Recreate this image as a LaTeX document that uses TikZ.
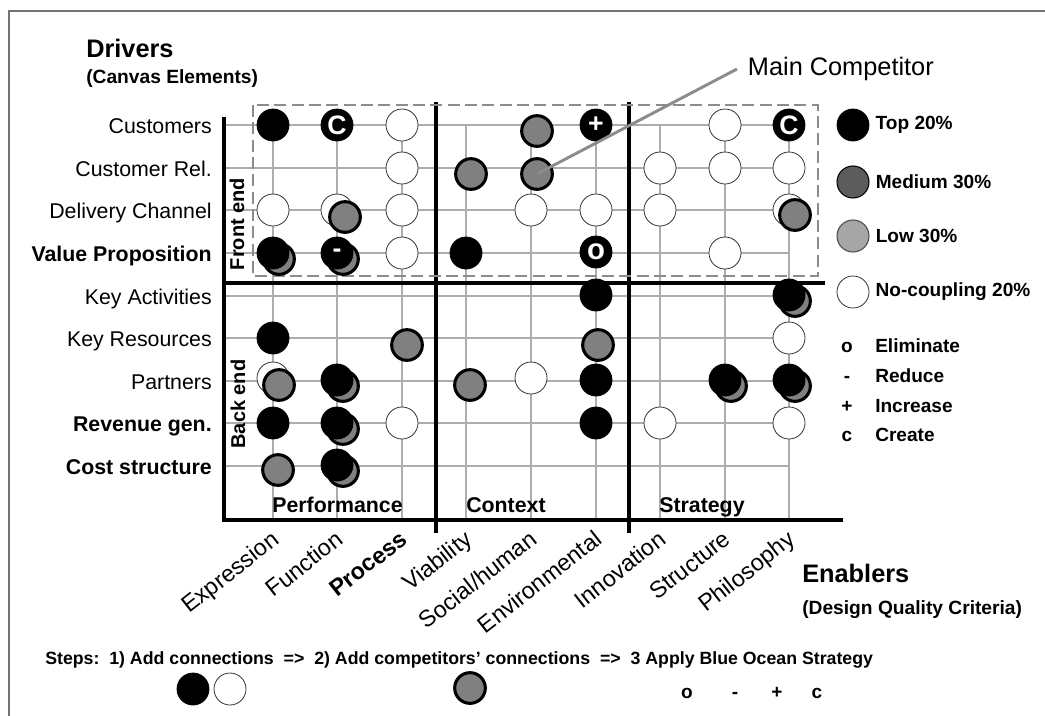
\documentclass[tikz,border=0pt]{standalone}
\usepackage{fontspec}
\setmainfont{Liberation Sans}
\usepackage{tikz}
\usetikzlibrary{positioning}
\definecolor{rivalgray}{gray}{0.5}
\definecolor{medgray}{gray}{0.36}
\definecolor{lowgray}{gray}{0.65}
\definecolor{gridgray}{gray}{0.68}
\definecolor{boxgray}{gray}{0.55}
\tikzstyle{topdot} = [circle, minimum size=24pt, inner sep=0pt, fill=black, draw=black, line width=0.6pt]
\tikzstyle{nodot} = [circle, minimum size=24pt, inner sep=0pt, fill=white, draw=black!80, line width=0.6pt]
\tikzstyle{rivaldot} = [circle, minimum size=23pt, inner sep=0pt, fill=rivalgray, draw=black, line width=2.3pt]
\tikzstyle{actdot} = [topdot, text=white, font=\fontsize{20}{20}\selectfont\bfseries]
\tikzstyle{gridline} = [gridgray, line width=0.8pt]
\tikzstyle{axis} = [black, line width=2.3pt]
\tikzstyle{frontbox} = [boxgray, line width=2.2pt, dash pattern=on 9pt off 4pt]
\tikzstyle{rowlabel} = [anchor=base east, inner sep=0pt, font=\fontsize{16}{18}\selectfont]
\tikzstyle{collabel} = [anchor=north east, rotate=38, inner sep=0pt, font=\fontsize{17.5}{20}\selectfont]
\tikzstyle{grouplabel} = [anchor=base west, inner sep=0pt, font=\fontsize{16}{18}\selectfont\bfseries]
\tikzstyle{sidelabel} = [rotate=90, inner sep=0pt, font=\fontsize{15}{18}\selectfont\bfseries]
\tikzstyle{headlabel} = [anchor=west, inner sep=0pt, font=\fontsize{19}{22}\selectfont\bfseries]
\tikzstyle{sublabel} = [anchor=west, inner sep=0pt, font=\fontsize{14.4}{17}\selectfont\bfseries]
\tikzstyle{legendlabel} = [inner sep=0pt, font=\fontsize{14.3}{17}\selectfont\bfseries]
\tikzstyle{symlabel} = [anchor=base, inner sep=0pt, font=\fontsize{14.3}{17}\selectfont\bfseries]
\tikzstyle{pointer} = [black!45, line width=2.2pt]

\begin{document}
\begin{tikzpicture}[x=0.75pt, y=-0.75pt]
\useasboundingbox (0,0) rectangle (1045,715);
\draw [black!55, line width=1.5pt] (9,730) -- (9,11) -- (1060,11);

% grid of drivers x enablers
\draw [gridline] (224,125) -- (790,125);
\draw [gridline] (224,168) -- (790,168);
\draw [gridline] (224,210) -- (790,210);
\draw [gridline] (224,253) -- (790,253);
\draw [gridline] (224,296) -- (790,296);
\draw [gridline] (224,338) -- (790,338);
\draw [gridline] (224,381) -- (790,381);
\draw [gridline] (224,423) -- (790,423);
\draw [gridline] (224,466) -- (790,466);
\draw [gridline] (273,125) -- (273,520);
\draw [gridline] (337,125) -- (337,520);
\draw [gridline] (402,125) -- (402,520);
\draw [gridline] (466,125) -- (466,520);
\draw [gridline] (531,125) -- (531,520);
\draw [gridline] (596,125) -- (596,520);
\draw [gridline] (660,125) -- (660,520);
\draw [gridline] (725,125) -- (725,520);
\draw [gridline] (789,125) -- (789,520);

% axes and separators
\draw [axis] (224,117) -- (224,521);
\draw [axis] (222,520) -- (843,520);
\draw [axis] (224,283) -- (825,283);
\draw [axis] (436,102) -- (436,533);
\draw [axis] (629,102) -- (629,533);
\draw [frontbox] (253,105) rectangle (818,276);

% headings
\node (drivers) [headlabel] at (86,48) {Drivers};
\node (canvas) [sublabel] at (86,79) {(Canvas Elements)};
\node (enablers) [headlabel] at (802,573) {Enablers};
\node (dqc) [sublabel] at (802,610) {(Design Quality Criteria)};

% drivers
\node (customers) [rowlabel] at (212,133.5) {Customers};
\node (custrel) [rowlabel] at (212,176.5) {Customer Rel.};
\node (delivery) [rowlabel] at (212,218.5) {Delivery Channel};
\node (valueprop) [rowlabel, font=\fontsize{16}{18}\selectfont\bfseries] at (212,261.5) {Value Proposition};
\node (keyact) [rowlabel] at (212,304.5) {Key Activities};
\node (keyres) [rowlabel] at (212,346.5) {Key Resources};
\node (partners) [rowlabel] at (212,389.5) {Partners};
\node (revenue) [rowlabel, font=\fontsize{16}{18}\selectfont\bfseries] at (212,431.5) {Revenue gen.};
\node (cost) [rowlabel, font=\fontsize{16}{18}\selectfont\bfseries] at (212,474.5) {Cost structure};
\node (frontend) [sidelabel] at (237,224) {Front end};
\node (backend) [sidelabel] at (238,404) {Back end};

% enablers
\node (expression) [collabel] at (270,529) {Expression};
\node (function) [collabel] at (334,529) {Function};
\node (process) [collabel, font=\fontsize{17.5}{20}\selectfont\bfseries] at (399,529) {Process};
\node (viability) [collabel] at (463,529) {Viability};
\node (social) [collabel] at (528,529) {Social/human};
\node (environmental) [collabel] at (593,529) {Environmental};
\node (innovation) [collabel] at (657,529) {Innovation};
\node (structure) [collabel] at (722,529) {Structure};
\node (philosophy) [collabel] at (786,529) {Philosophy};
\node (performance) [grouplabel] at (272,512) {Performance};
\node (context) [grouplabel] at (466,512) {Context};
\node (strategy) [grouplabel] at (659,512) {Strategy};

% Expression
\node (c11) [topdot] at (273,125) {};
\node (c31) [nodot] at (273,210) {};
\node (s41) [rivaldot] at (279,259) {};
\node (c41) [topdot] at (273,253) {};
\node (c61) [topdot] at (273,338) {};
\node (c71) [nodot] at (273,378) {};
\node (r71) [rivaldot] at (279,385) {};
\node (c81) [topdot] at (273,423) {};
\node (r91) [rivaldot] at (278,470) {};
% Function
\node (c12) [actdot] at (337,125) {C};
\node (c32) [nodot] at (337,210) {};
\node (r32) [rivaldot] at (345,217) {};
\node (s42) [rivaldot] at (343,259) {};
\node (c42) [actdot] at (337,253) {-};
\node (s72) [rivaldot] at (343,386) {};
\node (c72) [topdot] at (337,380) {};
\node (s82) [rivaldot] at (343,429) {};
\node (c82) [topdot] at (337,423) {};
\node (s92) [rivaldot] at (343,471) {};
\node (c92) [topdot] at (337,465) {};
% Process
\node (c13) [nodot] at (402,125) {};
\node (c23) [nodot] at (402,168) {};
\node (c33) [nodot] at (402,210) {};
\node (c43) [nodot] at (402,253) {};
\node (r63) [rivaldot] at (407,345) {};
\node (c83) [nodot] at (402,423) {};
% Viability
\node (r24) [rivaldot] at (471,174) {};
\node (c44) [topdot] at (466,253) {};
\node (r74) [rivaldot] at (470,385) {};
% Social/human
\node (r15) [rivaldot] at (537,131) {};
\node (r25) [rivaldot] at (537,174) {};
\node (c35) [nodot] at (531,210) {};
\node (c75) [nodot] at (531,378) {};
% Environmental
\node (c16) [actdot] at (596,125) {+};
\node (c36) [nodot] at (596,210) {};
\node (c46) [actdot, font=\fontsize{22}{22}\selectfont\bfseries] at (596,252) {o};
\node (c56) [topdot] at (596,295) {};
\node (r66) [rivaldot] at (598,345) {};
\node (c76) [topdot] at (596,380) {};
\node (c86) [topdot] at (596,423) {};
% Innovation
\node (c27) [nodot] at (660,168) {};
\node (c37) [nodot] at (660,210) {};
\node (c87) [nodot] at (660,423) {};
% Structure
\node (c18) [nodot] at (725,125) {};
\node (c28) [nodot] at (725,168) {};
\node (c48) [nodot] at (725,253) {};
\node (s78) [rivaldot] at (731,386) {};
\node (c78) [topdot] at (725,380) {};
% Philosophy
\node (c19) [actdot] at (789,125) {C};
\node (c29) [nodot] at (789,168) {};
\node (c39) [nodot] at (789,210) {};
\node (r39) [rivaldot] at (795,215) {};
\node (s59) [rivaldot] at (795,301) {};
\node (c59) [topdot] at (789,295) {};
\node (c69) [nodot] at (789,338) {};
\node (s79) [rivaldot] at (795,386) {};
\node (c79) [topdot] at (789,380) {};
\node (c89) [nodot] at (789,423) {};

% main competitor
\node (maincomp) [anchor=west, inner xsep=8pt, inner ysep=0pt, font=\fontsize{19}{22}\selectfont] at (737,69) {Main Competitor};
\draw [pointer] (maincomp.west) -- (r25.center);

% legend
\node (leg1) [topdot] at (853,125) {};
\node (leg2) [circle, minimum size=24pt, inner sep=0pt, fill=medgray, draw=black, line width=0.8pt] at (853,182) {};
\node (leg3) [circle, minimum size=24pt, inner sep=0pt, fill=lowgray, draw=black!70, line width=0.8pt] at (853,236) {};
\node (leg4) [nodot] at (853,292) {};
\node (toplab) [legendlabel, right=4.5pt of leg1] {Top 20\%};
\node (medlab) [legendlabel, right=4.5pt of leg2] {Medium 30\%};
\node (lowlab) [legendlabel, right=4.5pt of leg3] {Low 30\%};
\node (nolab) [legendlabel, right=4.5pt of leg4] {No-coupling 20\%};
\node (elimsym) [symlabel] at (847,352) {o};
\node (redsym) [symlabel] at (847,382) {-};
\node (incsym) [symlabel] at (847,412) {+};
\node (cresym) [symlabel] at (847,441) {c};
\node (elimlab) [symlabel, anchor=base west] at (875,352) {Eliminate};
\node (redlab) [symlabel, anchor=base west] at (875,382) {Reduce};
\node (inclab) [symlabel, anchor=base west] at (875,412) {Increase};
\node (crelab) [symlabel, anchor=base west] at (875,441) {Create};

% steps
\node (steps) [symlabel, anchor=base west, font=\fontsize{13.3}{16}\selectfont\bfseries] at (45,664) {Steps:\ \ 1) Add connections\ \ =>\ \ 2) Add competitors’ connections\ \ =>\ \ 3 Apply Blue Ocean Strategy};
\node (step1a) [topdot] at (193,689) {};
\node (step1b) [nodot] at (230,689) {};
\node (step2) [rivaldot] at (470,688) {};
\node (step3o) [symlabel] at (687,698) {o};
\node (step3r) [symlabel] at (735,698) {-};
\node (step3i) [symlabel] at (777,698) {+};
\node (step3c) [symlabel] at (817,698) {c};
\end{tikzpicture}
\end{document}
